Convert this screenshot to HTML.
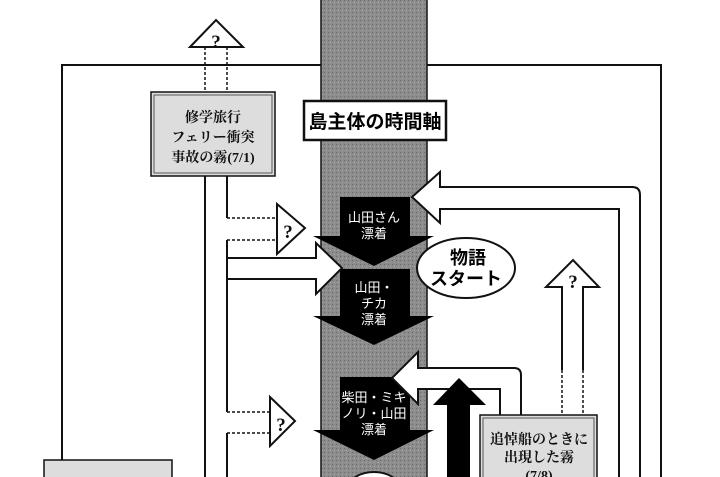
<!DOCTYPE html>
<html><head><meta charset="utf-8"><style>
html,body{margin:0;padding:0;background:#fff;width:720px;height:477px;overflow:hidden}
svg{display:block;overflow:hidden}
.w{fill:#fff;font-family:"Liberation Sans","Noto Sans CJK JP",sans-serif;font-weight:normal;font-size:13px;text-anchor:middle}
.s{font-family:"Liberation Serif","Noto Serif CJK SC",serif;font-weight:bold;font-size:14px;text-anchor:middle;fill:#111}
.q{font-family:"Liberation Serif",serif;font-weight:bold;font-size:19px;text-anchor:middle;fill:#111}
</style></head><body>
<svg width="720" height="477" viewBox="0 0 720 477" xmlns="http://www.w3.org/2000/svg">
<defs>
<pattern id="g" width="4" height="4" patternUnits="userSpaceOnUse">
<rect width="4" height="4" fill="#8c8c8c"/><rect width="1" height="1" fill="#6a6a6a"/><rect x="2" y="2" width="1" height="1" fill="#a8a8a8"/>
</pattern>
</defs>
<g fill="none" stroke="#111" stroke-width="2">
<polyline points="62,460 62,65 321,65"/>
<polyline points="427,65 661,65 661,477"/>
<line x1="205" y1="176" x2="205" y2="477"/>
</g>
<rect x="321" y="-2" width="106" height="481" fill="url(#g)" stroke="#111" stroke-width="1.5"/>
<rect x="304" y="101" width="142" height="39" fill="#fff" stroke="#111" stroke-width="2.5"/>
<text x="375" y="128" font-family="Liberation Sans,'Noto Sans CJK JP',sans-serif" font-weight="bold" font-size="19" text-anchor="middle">島主体の時間軸</text>
<g fill="#000">
<polygon points="340,197 410,197 410,236 434,236 374,266 313,236 340,236"/>
<polygon points="340,269 410,269 410,316 434,316 374,345 313,316 340,316"/>
<polygon points="340,377 410,377 410,430 434,430 374,460 313,430 340,430"/>
</g>
<text class="w" x="374" y="222">山田さん</text>
<text class="w" x="374" y="238">漂着</text>
<text class="w" x="374" y="292">山田・</text>
<text class="w" x="374" y="308">チカ</text>
<text class="w" x="374" y="324">漂着</text>
<text class="w" x="374" y="402">柴田・ミキ</text>
<text class="w" x="374" y="418">ノリ・山田</text>
<text class="w" x="374" y="434">漂着</text>
<ellipse cx="374" cy="492" rx="28" ry="20" fill="#fff" stroke="#111" stroke-width="2"/>
<polygon points="227,258 316,258 316,243 342,268 316,294 316,279 227,279" fill="#fff" stroke="#111" stroke-width="2"/>
<g fill="#fff" stroke="#111" stroke-width="2">
<polygon points="277,204 305,228 277,254"/>
<polygon points="270,397 295,421 270,446"/>
</g>
<g fill="none" stroke="#111" stroke-width="2">
<polyline points="227,176 227,218"/>
<polyline points="227,240 227,258"/>
<polyline points="227,279 227,412"/>
<polyline points="227,433 227,477"/>
</g>
<g fill="none" stroke="#111" stroke-width="1.5" stroke-dasharray="3,2">
<line x1="227" y1="218" x2="277" y2="218"/><line x1="227" y1="240" x2="277" y2="240"/>
<line x1="227" y1="412" x2="270" y2="412"/><line x1="227" y1="433" x2="270" y2="433"/>
<line x1="205" y1="47" x2="205" y2="92"/><line x1="227" y1="47" x2="227" y2="92"/>
<line x1="562" y1="370" x2="562" y2="415"/><line x1="583" y1="370" x2="583" y2="415"/>
</g>
<polygon points="190,47 216,20 243,47" fill="#fff" stroke="#111" stroke-width="2"/>
<text x="216" y="48" class="q">?</text>
<text x="288" y="238" class="q">?</text>
<text x="281" y="431" class="q">?</text>
<rect x="151" y="92" width="124" height="84" fill="#ddd" stroke="#111" stroke-width="1.5"/>
<rect x="154" y="95" width="118" height="78" fill="none" stroke="#555" stroke-width="1"/>
<text class="s" x="213" y="122">修学旅行</text>
<text class="s" x="213" y="142">フェリー衝突</text>
<text class="s" x="213" y="162">事故の霧(7/1)</text>
<rect x="44" y="460" width="128" height="20" fill="#ddd" stroke="#111" stroke-width="1.5"/>
<path d="M640,479 L640,195 Q640,187 632,187 L440,187 L440,172 L412,197 L440,223 L440,209 L619,209 L619,479" fill="#fff" stroke="#111" stroke-width="2"/>
<path d="M521,415 L521,375 Q521,368 514,368 L418,368 L418,352 L392,378 L418,404 L418,389 L500,389 L500,415" fill="#fff" stroke="#111" stroke-width="2"/>
<path d="M562,370 L562,287 L546,287 L573,260 L599,287 L583,287 L583,370" fill="#fff" stroke="#111" stroke-width="2"/>
<text x="573" y="288" class="q">?</text>
<polygon points="447,479 447,405 433,405 459,378 486,405 470,405 470,479" fill="#000"/>
<ellipse cx="466" cy="268" rx="49" ry="30" fill="#fff" stroke="#111" stroke-width="2"/>
<text x="468" y="264" font-family="Liberation Sans,'Noto Sans CJK JP',sans-serif" font-weight="bold" font-size="18" text-anchor="middle">物語</text>
<text x="466" y="285" font-family="Liberation Sans,'Noto Sans CJK JP',sans-serif" font-weight="bold" font-size="18" text-anchor="middle">スタート</text>
<rect x="480" y="415" width="117" height="70" fill="#ddd" stroke="#111" stroke-width="1.5"/>
<rect x="483" y="418" width="111" height="64" fill="none" stroke="#555" stroke-width="1"/>
<text class="s" x="539" y="444">追悼船のときに</text>
<text class="s" x="539" y="462">出現した霧</text>
<text class="s" x="539" y="480">(7/8)</text>
</svg>
</body></html>
